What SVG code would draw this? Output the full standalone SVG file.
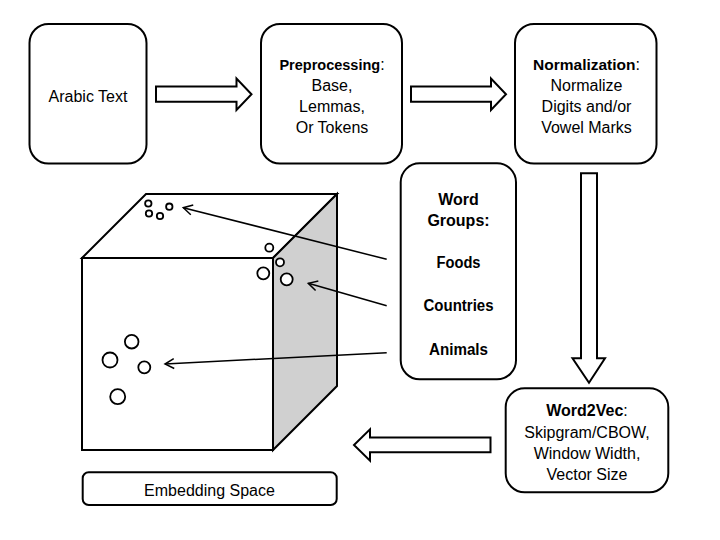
<svg xmlns="http://www.w3.org/2000/svg" width="720" height="540" viewBox="0 0 720 540">
<defs>
<style>
.box{fill:#fff;stroke:#000;stroke-width:2}
.blk{fill:#fff;stroke:#000;stroke-width:2;stroke-linejoin:miter}
.t{font-family:"Liberation Sans",Arial,sans-serif;font-size:16px;fill:#000;text-anchor:middle}
.b{font-weight:bold;font-size:16px}
.cube{stroke:#000;stroke-width:2;stroke-linejoin:miter}
.dot{fill:#fff;stroke:#000;stroke-width:1.8}
.con{fill:none;stroke:#000;stroke-width:1.5;marker-end:url(#v)}
</style>
<marker id="v" viewBox="-12 -7 14 14" refX="0" refY="0" markerWidth="14" markerHeight="14" markerUnits="userSpaceOnUse" orient="auto">
<path d="M-9,-5 L0,0 L-9,5" fill="none" stroke="#000" stroke-width="1.5"/>
</marker>
</defs>
<rect width="720" height="540" fill="#fff"/>

<g id="cube">
<polygon class="cube" fill="#fff" points="82,258 146,194 337,194 273,258"/>
<polygon class="cube" fill="#d0d0d0" points="273,258 337,194 337,386 273,450"/>
<rect class="cube" fill="#fff" x="82" y="258" width="191" height="192"/>
<g id="dots">
<circle class="dot" cx="148.3" cy="203.5" r="3.2"/>
<circle class="dot" cx="149" cy="213.5" r="3.2"/>
<circle class="dot" cx="160" cy="216" r="3.2"/>
<circle class="dot" cx="169.3" cy="206.7" r="3.2"/>
<circle class="dot" cx="269.3" cy="247.7" r="4"/>
<circle class="dot" cx="280" cy="262.3" r="4"/>
<circle class="dot" cx="263.3" cy="273.3" r="6"/>
<circle class="dot" cx="286.7" cy="279.3" r="6"/>
<circle class="dot" cx="131.7" cy="341.7" r="6.8"/>
<circle class="dot" cx="110" cy="360" r="7.5"/>
<circle class="dot" cx="144.3" cy="367.3" r="6"/>
<circle class="dot" cx="117.7" cy="396.7" r="7.5"/>
</g>
</g>

<g id="arabic">
<rect class="box" x="29.5" y="24" width="117" height="139.5" rx="19"/>
<text class="t" x="88" y="102.4">Arabic Text</text>
</g>

<g id="preprocessing">
<rect class="box" x="261" y="24" width="141" height="139.5" rx="19"/>
<text class="t" x="332" y="70"><tspan font-weight="bold" font-size="14.5">Preprocessing</tspan>:</text>
<text class="t" x="332" y="91">Base,</text>
<text class="t" x="332" y="112">Lemmas,</text>
<text class="t" x="332" y="133">Or Tokens</text>
</g>

<g id="normalization">
<rect class="box" x="515" y="24" width="141.5" height="139.5" rx="19"/>
<text class="t" x="586.5" y="70"><tspan font-weight="bold" font-size="15.5">Normalization</tspan>:</text>
<text class="t" x="586.5" y="91">Normalize</text>
<text class="t" x="586.5" y="112">Digits and/or</text>
<text class="t" x="586.5" y="133">Vowel Marks</text>
</g>

<g id="wordgroups">
<rect class="box" x="400.7" y="163.3" width="115.3" height="216" rx="19"/>
<text class="t b" x="458.5" y="204.5">Word</text>
<text class="t b" x="458.5" y="226">Groups:</text>
<text class="t b" x="458.5" y="267.5" textLength="44" lengthAdjust="spacingAndGlyphs">Foods</text>
<text class="t b" x="458.5" y="311" textLength="70" lengthAdjust="spacingAndGlyphs">Countries</text>
<text class="t b" x="458.5" y="354.5" textLength="59" lengthAdjust="spacingAndGlyphs">Animals</text>
</g>

<g id="word2vec">
<rect class="box" x="505.7" y="388.3" width="162.6" height="104" rx="19"/>
<text class="t" x="587" y="416"><tspan font-weight="bold">Word2Vec</tspan>:</text>
<text class="t" x="587" y="437.5">Skipgram/CBOW,</text>
<text class="t" x="587" y="459">Window Width,</text>
<text class="t" x="587" y="480">Vector Size</text>
</g>

<g id="embedding">
<rect class="box" x="82.7" y="472.3" width="254" height="32.7" rx="6"/>
<text class="t" x="209.5" y="495.5" font-size="14.5">Embedding Space</text>
</g>

<g id="connectors">
<polygon class="blk" points="156,86.5 236.5,86.5 236.5,78.5 251.5,94.2 236.5,110 236.5,101.8 156,101.8"/>
<polygon class="blk" points="411,86.5 491,86.5 491,78.5 506,94.2 491,110 491,101.8 411,101.8"/>
<polygon class="blk" points="581,173.3 597,173.3 597,358.3 605,358.3 589,382.7 572.5,358.3 581,358.3"/>
<polygon class="blk" points="490.5,437.5 370,437.5 370,429.3 354,445 370,460.7 370,452.3 490.5,452.3"/>
<line class="con" x1="386.7" y1="259.3" x2="183.3" y2="207.7"/>
<line class="con" x1="386.7" y1="305.7" x2="308.3" y2="283.3"/>
<line class="con" x1="386.7" y1="352.7" x2="165" y2="364"/>
</g>
</svg>
